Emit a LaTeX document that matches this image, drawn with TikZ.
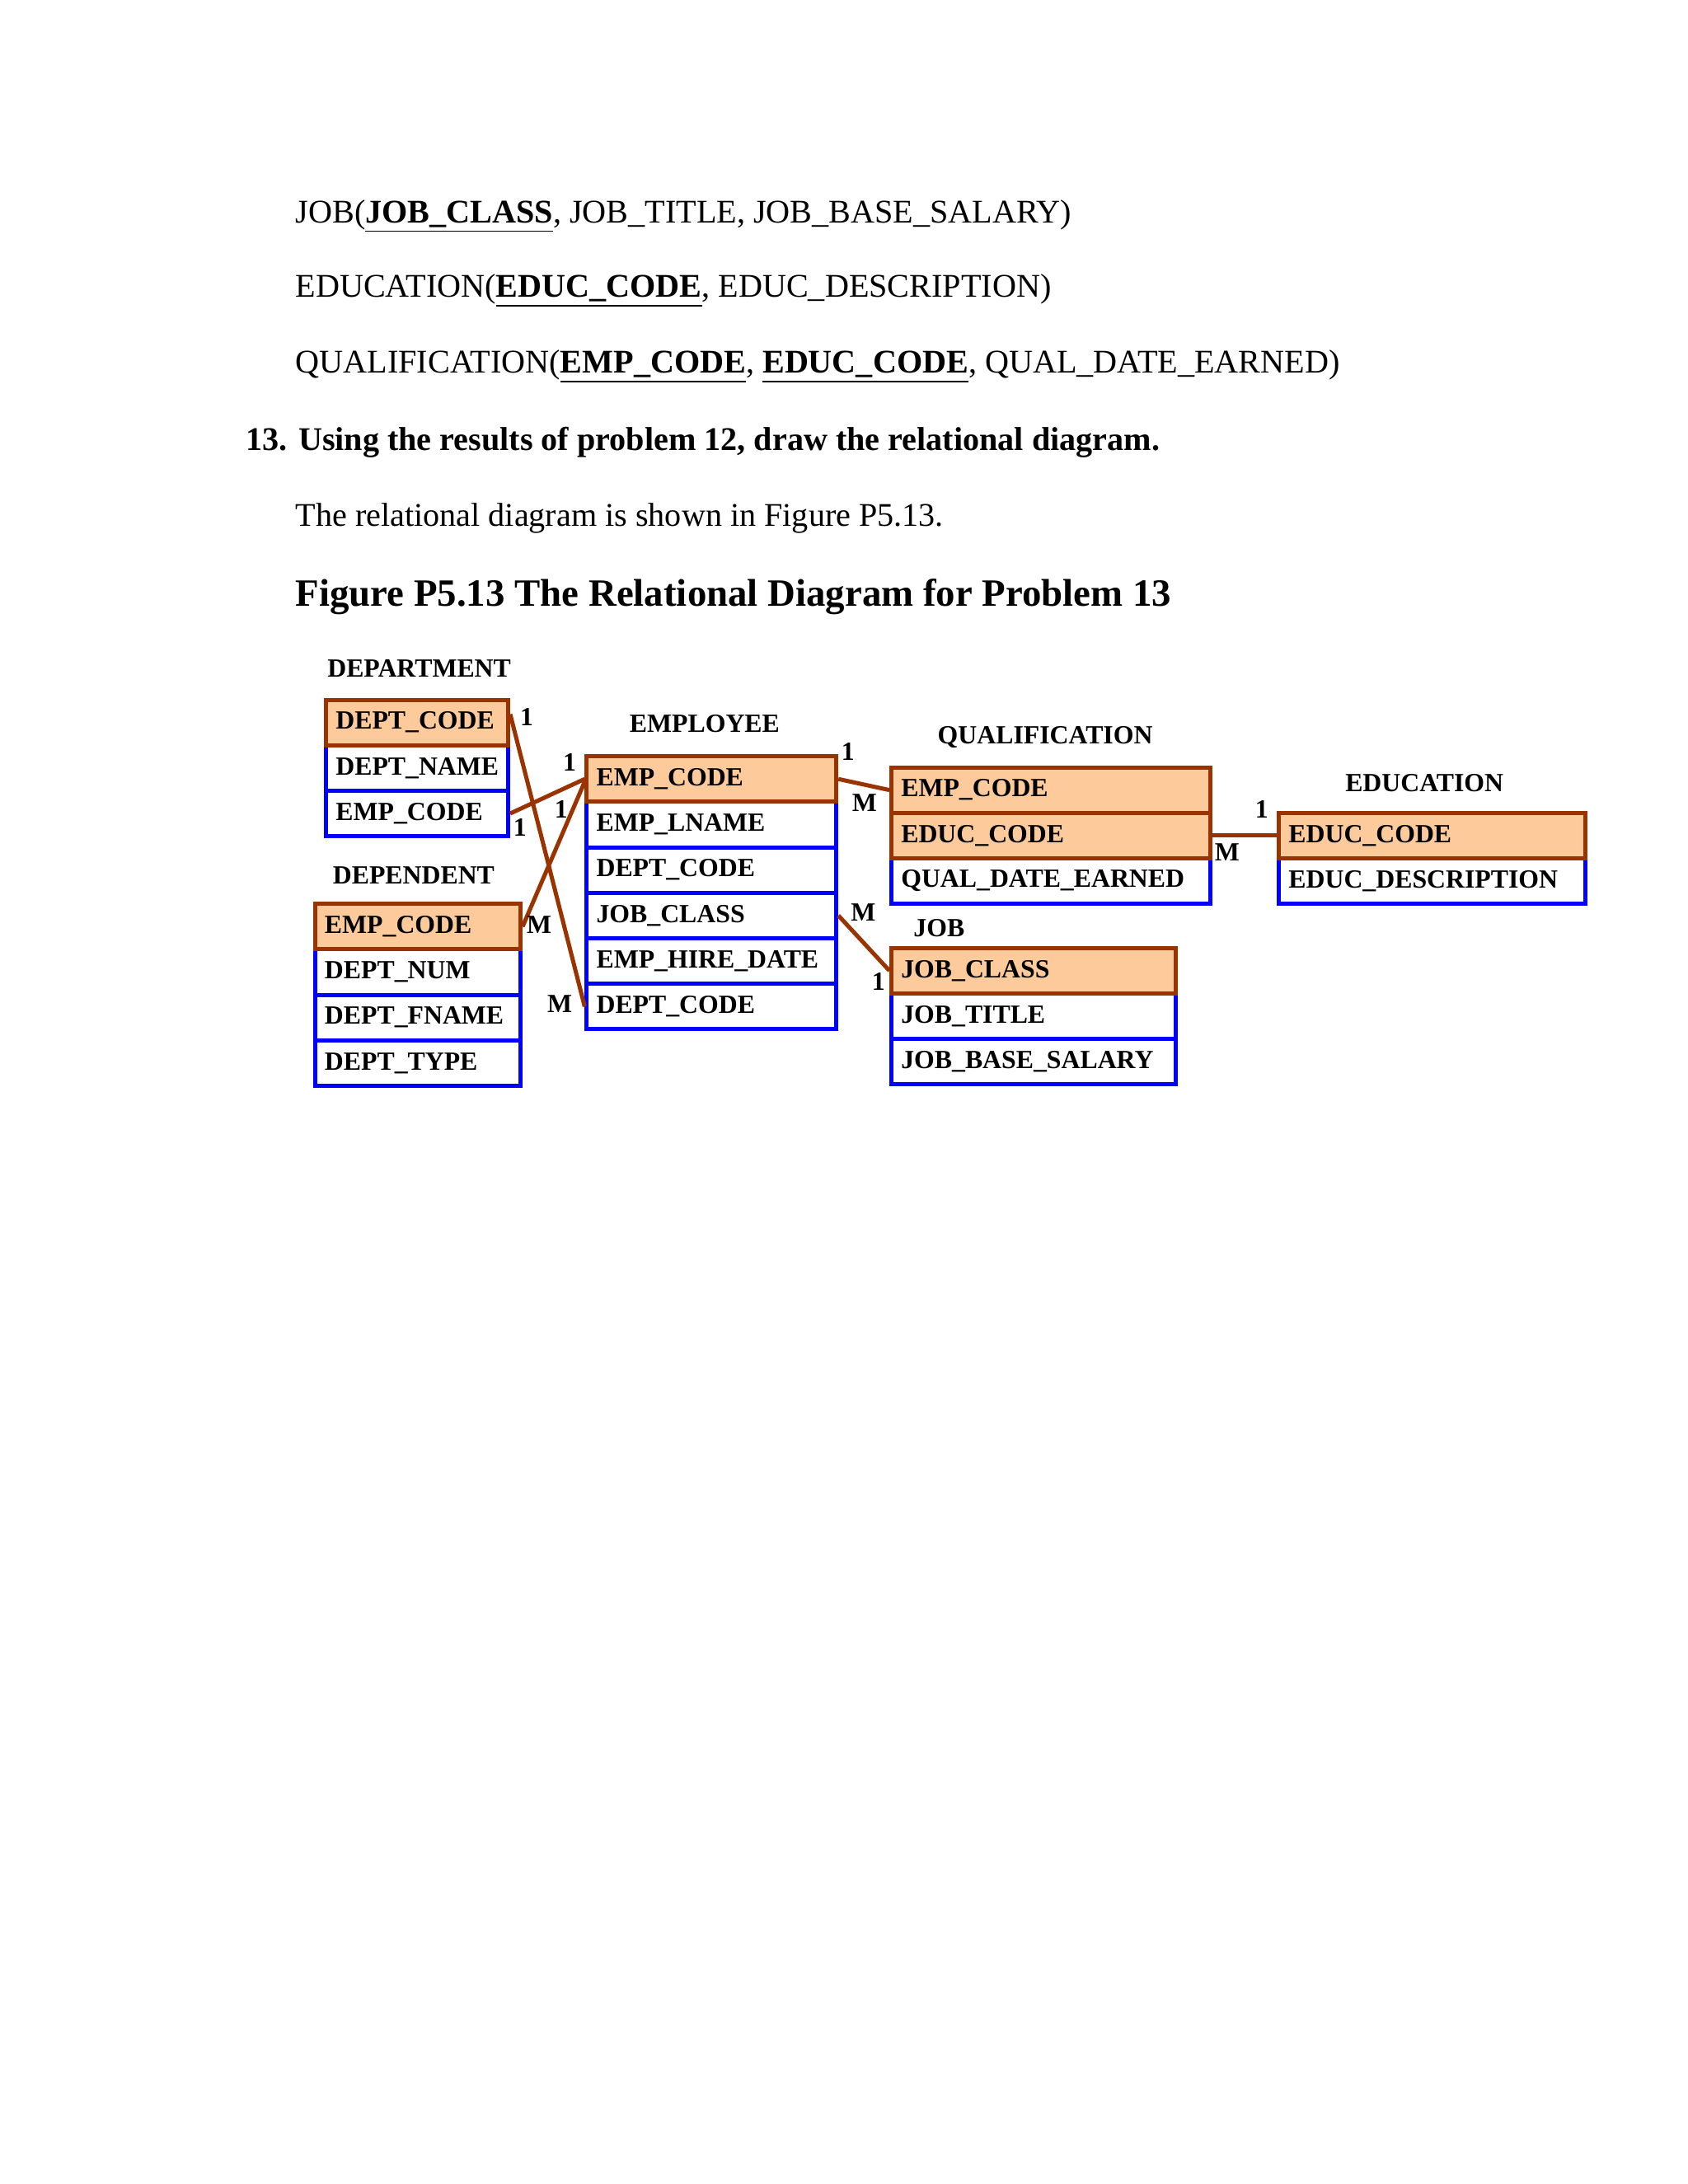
\documentclass[tikz,border=0pt]{standalone}
\usepackage{fontspec}
\setmainfont{Liberation Serif}
\definecolor{keybrown}{HTML}{993300}
\definecolor{keyfill}{HTML}{FDCB9B}
\begin{document}
\begin{tikzpicture}[x=0.5pt,y=-0.5pt,
  cell/.style={draw, line width=1.5pt, minimum height=16.5pt, inner xsep=3.5pt, inner ysep=0pt, align=left, anchor=north west, font=\bfseries\fontsize{9.5}{11}\selectfont},
  pk/.style={cell, draw=keybrown, fill=keyfill},
  nk/.style={cell, draw=blue, fill=white},
  ttl/.style={font=\bfseries\fontsize{9.5}{11}\selectfont},
  body/.style={anchor=west, inner sep=0pt, font=\fontsize{12}{14}\selectfont},
  rel/.style={draw=keybrown, line width=1.5pt},
  card/.style={font=\bfseries\fontsize{9.5}{11}\selectfont, inner sep=0pt}]
\useasboundingbox[fill=white] (0,0) rectangle (1224,1584);
\node[body] (t1) at (214,157) {JOB(\textbf{\underline{JOB\_CLASS}}, JOB\_TITLE, JOB\_BASE\_SALARY)};
\node[body] (t2) at (214,211) {EDUCATION(\textbf{\underline{EDUC\_CODE}}, EDUC\_DESCRIPTION)};
\node[body] (t3) at (214,266) {QUALIFICATION(\textbf{\underline{EMP\_CODE}}, \textbf{\underline{EDUC\_CODE}}, QUAL\_DATE\_EARNED)};
\node[body, font=\bfseries\fontsize{12}{14}\selectfont] (t4) at (178,321) {13. Using the results of problem 12, draw the relational diagram.};
\node[body] (t5) at (214,376) {The relational diagram is shown in Figure P5.13.};
\node[body, font=\bfseries\fontsize{14}{16}\selectfont] (t6) at (214,433) {Figure P5.13 The Relational Diagram for Problem 13};
% DEPARTMENT
\node[ttl] (depT) at (304,485) {DEPARTMENT};
\node[nk, text width=59pt] (dn) at (235,539) {DEPT\_NAME};
\node[nk, text width=59pt] (de) at (235,572) {EMP\_CODE};
\node[pk, text width=59pt] (dc) at (235,506) {DEPT\_CODE};
% EMPLOYEE
\node[ttl] (empT) at (511,525) {EMPLOYEE};
\node[nk, text width=83.5pt] (el) at (424,580) {EMP\_LNAME};
\node[nk, text width=83.5pt] (ed) at (424,613) {DEPT\_CODE};
\node[nk, text width=83.5pt] (ej) at (424,646) {JOB\_CLASS};
\node[nk, text width=83.5pt] (eh) at (424,679) {EMP\_HIRE\_DATE};
\node[nk, text width=83.5pt] (ed2) at (424,712) {DEPT\_CODE};
\node[pk, text width=83.5pt] (ec) at (424,547) {EMP\_CODE};
% DEPENDENT
\node[ttl] (dpT) at (300,635) {DEPENDENT};
\node[nk, text width=67.5pt] (pn) at (227,687) {DEPT\_NUM};
\node[nk, text width=67.5pt] (pf) at (227,720) {DEPT\_FNAME};
\node[nk, text width=67.5pt] (pt) at (227,753) {DEPT\_TYPE};
\node[pk, text width=67.5pt] (pc) at (227,654) {EMP\_CODE};
% QUALIFICATION
\node[ttl] (qT) at (758,535) {QUALIFICATION};
\node[nk, text width=108.5pt] (qd) at (645,621) {QUAL\_DATE\_EARNED};
\node[pk, text width=108.5pt] (qe) at (645,555) {EMP\_CODE};
\node[pk, text width=108.5pt] (qc) at (645,588) {EDUC\_CODE};
% EDUCATION
\node[ttl] (edT) at (1033,568) {EDUCATION};
\node[nk, text width=104pt] (xd) at (926,621) {EDUC\_DESCRIPTION};
\node[pk, text width=104pt] (xc) at (926,588) {EDUC\_CODE};
% JOB
\node[ttl] (jT) at (681,673) {JOB};
\node[nk, text width=96pt] (jt) at (645,719) {JOB\_TITLE};
\node[nk, text width=96pt] (js) at (645,752) {JOB\_BASE\_SALARY};
\node[pk, text width=96pt] (jc) at (645,686) {JOB\_CLASS};
% relations
\draw[rel] ([yshift=3pt]dc.east) -- (ed2.west);
\draw[rel] (de.east) -- (ec.west);
\draw[rel] (pc.east) -- ([yshift=-1pt]ec.west);
\draw[rel] (ec.east) -- (qe.west);
\draw[rel] (qc.east) -- (xc.west);
\draw[rel] (ej.east) -- (jc.west);
% cardinalities
\node[card] (c1) at (382,520) {1};
\node[card] (c2) at (406,728) {M};
\node[card] (c3) at (377,600) {1};
\node[card] (c4) at (413,553) {1};
\node[card] (c5) at (391,671) {M};
\node[card] (c6) at (407,587) {1};
\node[card] (c7) at (615,545) {1};
\node[card] (c8) at (627,582) {M};
\node[card] (c9) at (890,618) {M};
\node[card] (c10) at (915,587) {1};
\node[card] (c11) at (626,662) {M};
\node[card] (c12) at (637,712) {1};
\end{tikzpicture}
\end{document}
